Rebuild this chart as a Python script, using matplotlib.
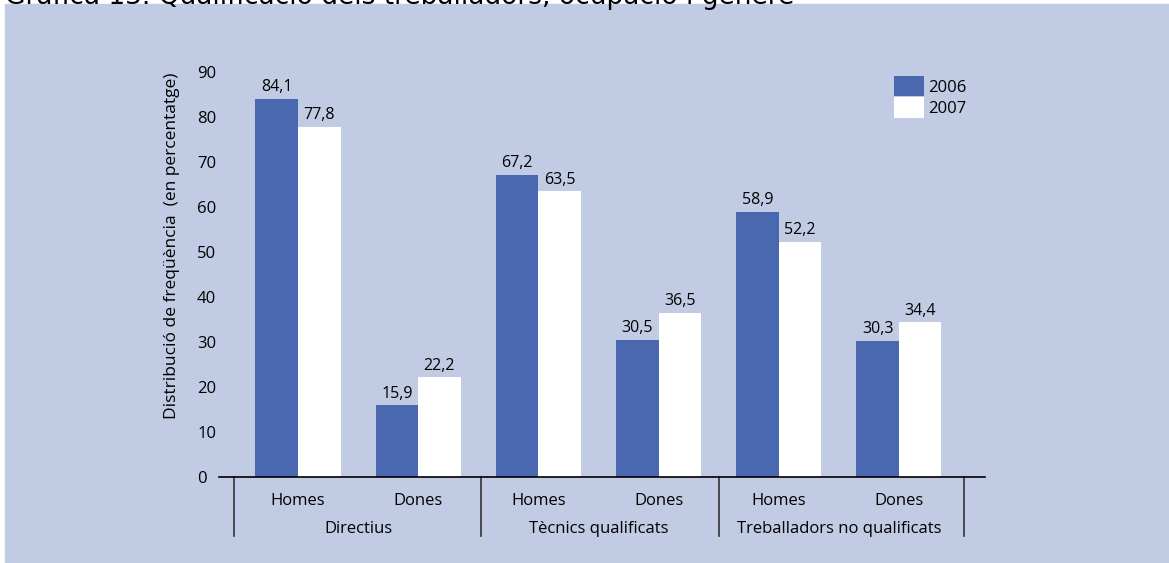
import matplotlib.pyplot as plt
import matplotlib.patches as mpatches
import numpy as np

plt.rcParams['font.family'] = ['Open Sans', 'DejaVu Sans']

generes = ["Homes", "Dones", "Homes", "Dones", "Homes", "Dones"]
ocupacions = ["Directius", "Tècnics qualificats", "Treballadors no qualificats"]
valors_2006 = [84.1, 15.9, 67.2, 30.5, 58.9, 30.3]
valors_2007 = [77.8, 22.2, 63.5, 36.5, 52.2, 34.4]
etiquetes_2006 = ["84,1", "15,9", "67,2", "30,5", "58,9", "30,3"]
etiquetes_2007 = ["77,8", "22,2", "63,5", "36,5", "52,2", "34,4"]

blau = "#4A68B0"
fons = "#C1CBE4"
W, H = 1169, 563

fig = plt.figure(figsize=(W / 100, H / 100), dpi=100, facecolor="white")
fig.patches.append(mpatches.Rectangle((5 / W, 0), 1 - 5 / W, (H - 4) / H,
                                      transform=fig.transFigure, color=fons, zorder=-5))
# titol (tallat a la vora superior, com a l'original)
fig.text(5 / W, 1 - 4 / H, "Gràfica 13. Qualificació dels treballadors, ocupació i gènere",
         fontsize=19, va="baseline", ha="left", family=["DejaVu Sans"])

ax = fig.add_axes([219 / W, 1 - 477 / H, (985 - 219) / W, (477 - 72) / H])
ax.set_facecolor("none")
x = np.arange(len(generes))
w = 0.354
ax.bar(x - w / 2, valors_2006, w, color=blau, label="2006")
ax.bar(x + w / 2, valors_2007, w, color="white", label="2007")
for xi, v, t in zip(x, valors_2006, etiquetes_2006):
    ax.text(xi - w / 2, v + 0.8, t, ha="center", va="bottom", fontsize=11.5)
for xi, v, t in zip(x, valors_2007, etiquetes_2007):
    ax.text(xi + w / 2, v + 0.8, t, ha="center", va="bottom", fontsize=11.5)

ax.set_xlim(-0.657, 5.716)
ax.set_ylim(0, 90)
ax.set_yticks(range(0, 91, 10))
ax.tick_params(axis="y", length=0, labelsize=12, pad=15.8)
for lbl in ax.get_yticklabels():
    lbl.set_horizontalalignment("left")
ax.set_xticks([])
for s in ["top", "right", "left"]:
    ax.spines[s].set_visible(False)
ax.spines["bottom"].set_linewidth(1.2)

for xi, g in zip(x, generes):
    ax.text(xi, -5.3, g, ha="center", va="center", fontsize=12)
for i, o in enumerate(ocupacions):
    ax.text(2 * i + 0.5, -11.5, o, ha="center", va="center", fontsize=12)
for xs in [-0.53, 1.52, 3.5, 5.54]:
    ax.plot([xs, xs], [0, -13.2], color="#333333", lw=1.2, clip_on=False)

fig.text(172 / W, 1 - 246 / H, "Distribució de freqüència  (en percentatge)",
         rotation=90, ha="center", va="center", fontsize=12.5)

ax.legend(loc="upper left", bbox_to_anchor=((894 - 219) / (985 - 219), 1 - (76 - 72) / 405),
          frameon=False, fontsize=12, handlelength=1.8, handleheight=1.5,
          handletextpad=0.25, labelspacing=0.05, borderpad=0, borderaxespad=0)

plt.savefig("out.png", dpi=100, facecolor=fig.get_facecolor())
